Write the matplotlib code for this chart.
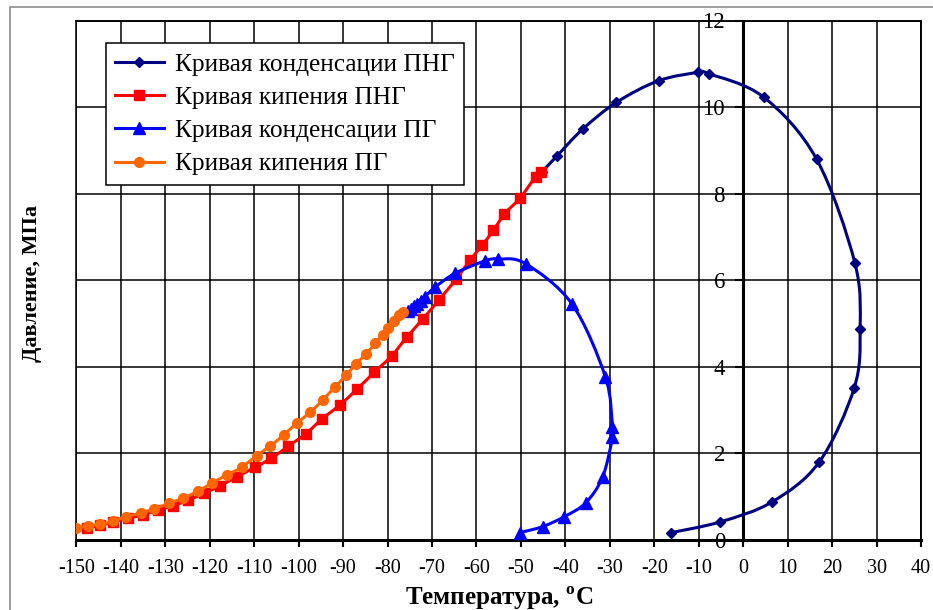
import matplotlib
matplotlib.use("Agg")
import matplotlib.pyplot as plt
from matplotlib.path import Path
from matplotlib.patches import PathPatch, Rectangle
from matplotlib.lines import Line2D
import numpy as np

plt.rcParams['font.family'] = ['Liberation Serif', 'DejaVu Serif']
plt.rcParams['mathtext.fontset'] = 'custom'
plt.rcParams['mathtext.rm'] = 'Liberation Serif'
plt.rcParams['mathtext.bf'] = 'Liberation Serif:bold'

# ---- data ----
cond_png_t = [-16.2, -5.1, 6.5, 17.1, 25.0, 26.3, 25.1, 16.5, 4.6, -7.7, -10.1, -19.0, -28.5, -36.1, -41.8, -45.2]
cond_png_p = [0.17, 0.42, 0.88, 1.80, 3.52, 4.87, 6.41, 8.80, 10.23, 10.77, 10.80, 10.61, 10.11, 9.49, 8.88, 8.51]

boil_png_t = [-147.5, -144.6, -141.7, -138.4, -135.1, -131.7, -128.3, -124.8, -121.2, -117.7, -113.9, -109.8,
              -106.1, -102.3, -98.3, -94.8, -90.7, -86.9, -83.0, -79.1, -75.7, -72.0, -68.4, -64.6, -61.4,
              -58.7, -56.2, -53.7, -50.2, -46.7, -45.5]
boil_png_p = [0.28, 0.34, 0.42, 0.50, 0.58, 0.69, 0.79, 0.92, 1.08, 1.25, 1.46, 1.68,
              1.89, 2.17, 2.46, 2.79, 3.12, 3.48, 3.87, 4.25, 4.68, 5.11, 5.55, 6.02, 6.47,
              6.81, 7.15, 7.53, 7.90, 8.39, 8.51]

cond_pg_t = [-50.2, -45.1, -40.2, -35.4, -31.6, -29.4, -29.4, -31.0, -38.5, -48.9, -55.1, -58.0, -64.8,
             -69.3, -71.6, -72.5, -73.3, -74.0, -74.7, -75.4]
cond_pg_p = [0.17, 0.31, 0.54, 0.86, 1.46, 2.37, 2.62, 3.77, 5.45, 6.38, 6.49, 6.45, 6.16,
             5.84, 5.62, 5.53, 5.46, 5.40, 5.34, 5.28]

boil_pg_t = [-150.0, -147.3, -144.7, -141.8, -138.8, -135.5, -132.5, -129.1, -125.9, -122.6, -119.4, -116.2,
             -112.8, -109.4, -106.4, -103.3, -100.4, -97.4, -94.6, -91.9, -89.3, -87.1, -84.8, -82.8,
             -81.1, -79.8, -78.5, -77.4, -76.6]
boil_pg_p = [0.28, 0.32, 0.37, 0.43, 0.54, 0.62, 0.72, 0.85, 0.97, 1.13, 1.32, 1.50,
             1.68, 1.95, 2.17, 2.43, 2.70, 2.95, 3.23, 3.53, 3.80, 4.07, 4.30, 4.54,
             4.74, 4.89, 5.07, 5.19, 5.27]

labels = ['Кривая конденсации ПНГ', 'Кривая кипения ПНГ', 'Кривая конденсации ПГ', 'Кривая кипения ПГ']
x_ticks = list(range(-150, 41, 10))
y_ticks = list(range(0, 13, 2))

W, H = 933, 610
fig = plt.figure(figsize=(W / 100, H / 100), dpi=100)
fig.patch.set_facecolor('white')
fig.add_artist(Rectangle((10 / W, -0.1), 1.2, 1.1 - 7 / H, transform=fig.transFigure,
                         fill=False, edgecolor='#8c8c8c', lw=1.2))

ax = fig.add_axes([76.3 / W, 1 - 540 / H, (921 - 76.3) / W, (540 - 20.5) / H])
ax.set_xlim(-150, 40)
ax.set_ylim(0, 12)


def smooth_path(xs, ys):
    """Excel-style smoothed line: cubic Bezier segments through the data points."""
    P = np.column_stack([xs, ys]).astype(float)
    n = len(P)
    verts = [P[0]]
    codes = [Path.MOVETO]
    for i in range(n - 1):
        p0 = P[i - 1] if i > 0 else P[i]
        p1 = P[i]
        p2 = P[i + 1]
        p3 = P[i + 2] if i + 2 < n else P[i + 1]
        c1 = p1 + (p2 - p0) / 6.0
        c2 = p2 - (p3 - p1) / 6.0
        verts += [c1, c2, p2]
        codes += [Path.CURVE4] * 3
    return Path(verts, codes)


series = [
    (cond_png_t, cond_png_p, '#000080', 'D', 5.5),
    (boil_png_t, boil_png_p, '#FF0000', 's', 6.5),
    (cond_pg_t, cond_pg_p, '#0000FF', '^', 8.5),
    (boil_pg_t, boil_pg_p, '#FF6600', 'o', 7.0),
]
handles = []
for k, (xs, ys, c, m, ms) in enumerate(series):
    patch = PathPatch(smooth_path(xs, ys), facecolor='none', edgecolor=c, lw=2.2, zorder=3 + k)
    ax.add_patch(patch)
    ax.plot(xs, ys, linestyle='none', marker=m, markersize=ms, color=c, markeredgecolor=c, zorder=3 + k)
    handles.append(Line2D([], [], color=c, lw=2.2, marker=m, markersize=ms, markeredgecolor=c))

# grid
ax.set_xticks(x_ticks)
ax.set_yticks(y_ticks)
ax.grid(True, color='black', lw=1.1)
ax.set_axisbelow(True)

for s in ['top', 'right']:
    ax.spines[s].set_linewidth(1.1)
ax.spines['left'].set_position(('data', 0))
ax.spines['left'].set_linewidth(2.2)
ax.spines['left'].set_zorder(2.5)
ax.spines['bottom'].set_linewidth(2.2)
ax.add_patch(Rectangle((0, 0), 1, 1, transform=ax.transAxes, fill=False, edgecolor='black',
                       lw=1.1, clip_on=False, zorder=2))

ax.tick_params(axis='x', direction='out', length=5, width=1.5, labelsize=14.5, pad=8.5)
ax.tick_params(axis='y', direction='out', length=6, width=1.5, labelsize=16.5, pad=7)
ax.set_xticklabels([str(v) for v in x_ticks])
ax.set_yticklabels([str(v) for v in y_ticks])

leg = ax.legend(handles, labels, loc='upper left', bbox_to_anchor=(0.0348, 0.956), borderaxespad=0,
                fancybox=False, framealpha=1, edgecolor='black', fontsize=18.3, handlelength=1.9,
                handletextpad=0.45, labelspacing=0.41, borderpad=0.38)
leg.get_frame().set_linewidth(1.1)
leg.set_zorder(10)

fig.text(499 / W, 1 - 598 / H, r'Температура, $^{\mathbf{o}}$C', ha='center', va='center',
         fontsize=18, fontweight='bold')
fig.text(31.5 / W, 1 - 283.5 / H, 'Давление, МПа', ha='center', va='center', rotation=90,
         fontsize=16, fontweight='bold')

fig.savefig('out.png', dpi=100)
